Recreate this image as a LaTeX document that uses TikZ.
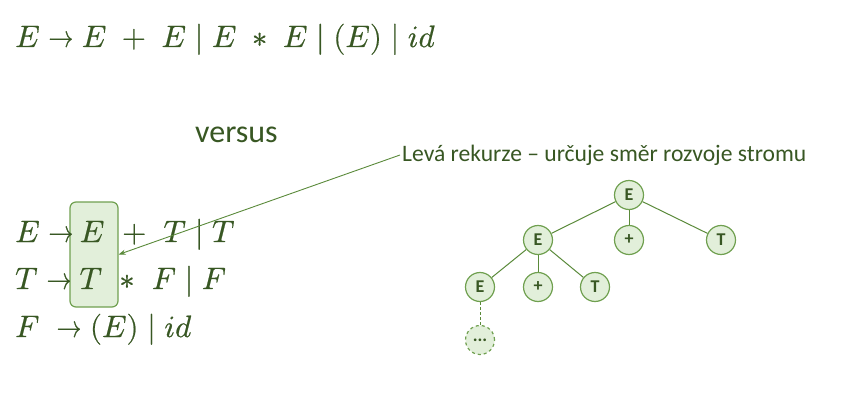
\documentclass[tikz,border=0pt]{standalone}
\usepackage{graphicx}
\usepackage{fontspec}
\usepackage{unicode-math}
\setmathfont{Latin Modern Math}[FakeBold=0.6]
\setsansfont{Carlito}
\usetikzlibrary{arrows.meta}
\definecolor{txtgreen}{HTML}{385723}
\definecolor{leafgreen}{HTML}{E2EFDA}
\definecolor{rimgreen}{HTML}{70A050}
\definecolor{edgegreen}{HTML}{5A8A3A}
\newcommand{\toarr}{\mathrel{\scalebox{0.8}[1]{$\rightarrow$}}}

\begin{document}
\begin{tikzpicture}[x=1pt, y=-1pt,
		g/.style = {inner sep=0pt, text=txtgreen, font=\fontsize{31}{37}\selectfont, anchor=base west},
		gc/.style = {g, anchor=base},
		t/.style = {circle, draw=rimgreen, fill=leafgreen, line width=1.2pt, minimum size=29, inner sep=0pt, text=txtgreen, font=\sffamily\bfseries\fontsize{18}{20}\selectfont},
		hl/.style = {rectangle, draw=rimgreen, fill=leafgreen, line width=1.2pt, rounded corners=6pt, minimum width=48, minimum height=105},
		l/.style = {draw=edgegreen, line width=1pt},
		r/.style = {-{Stealth[length=7pt, width=5pt]}, draw=edgegreen, line width=0.9pt}
		]
		\useasboundingbox (0,0) rectangle (857,401);
		
		%Grammar
		\node[g]	(top)	at	(15, 47)	{$E \toarr E \;+\; E \mid E \;\ast\; E \mid (E) \mid id$};
		\node[inner sep=0pt, text=txtgreen, font=\sffamily\fontsize{32}{38}\selectfont, anchor=base west]	(vs)	at	(195, 143)	{versus};
		\node[hl]	(box)	at	(94, 254.5)	{};
		\node[g]	(r1a)	at	(15, 242)	{$E \toarr$};
		\node[gc]	(r1b)	at	(92, 242)	{$E$};
		\node[g]	(r1c)	at	(122, 242)	{${+}\;\;T \mid T$};
		\node[g]	(r2a)	at	(15, 289)	{$T \toarr$};
		\node[gc]	(r2b)	at	(91, 289)	{$T$};
		\node[g]	(r2c)	at	(119, 289)	{${\ast}\;\;F \mid F$};
		\node[g]	(r3)	at	(15, 337)	{$F\;\toarr (E) \mid id$};
		\node[inner sep=2pt, text=txtgreen, font=\sffamily\fontsize{23.6}{28}\selectfont, anchor=west]	(lbl)	at	(400, 155)	{Levá rekurze – určuje směr rozvoje stromu};
		
		%Tree
		\node[t]	(e1)	at	(629, 195)	{E};
		\node[t]	(e2)	at	(538, 240)	{E};
		\node[t]	(p1)	at	(629, 240)	{+};
		\node[t]	(t1)	at	(721, 240)	{T};
		\node[t]	(e3)	at	(480, 287)	{E};
		\node[t]	(p2)	at	(538, 287)	{+};
		\node[t]	(t2)	at	(595, 287)	{T};
		\node[t, dashed]	(dots)	at	(480, 340)	{...};
		
		%Lines
		\draw[r]	(lbl.west)	--	(box.east);
		\draw[l]	(e1)	--	(e2);
		\draw[l]	(e1)	--	(p1);
		\draw[l]	(e1)	--	(t1);
		\draw[l]	(e2)	--	(e3);
		\draw[l]	(e2)	--	(p2);
		\draw[l]	(e2)	--	(t2);
		\draw[l, densely dashed]	(e3)	--	(dots);
	\end{tikzpicture}
\end{document}
